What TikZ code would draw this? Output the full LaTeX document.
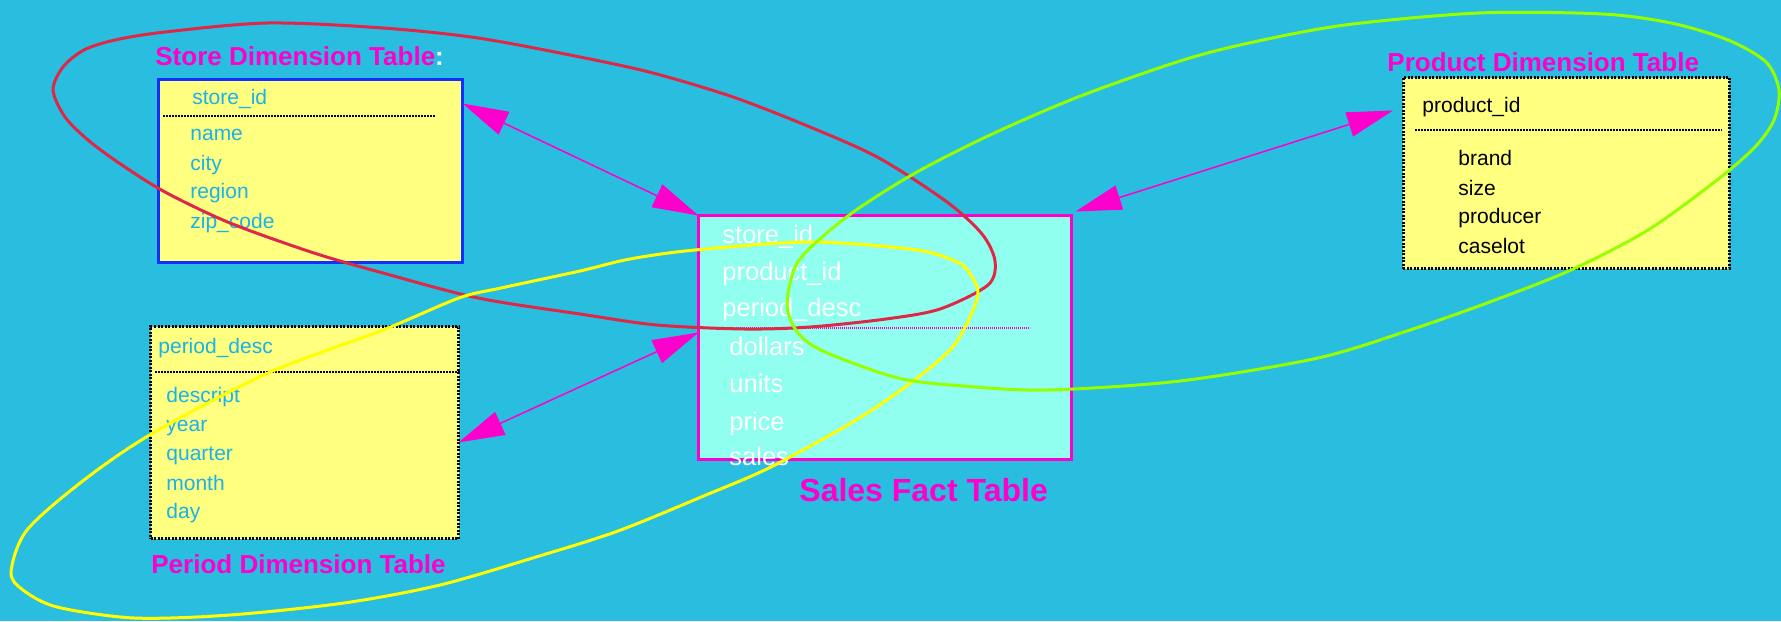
\documentclass[tikz,border=0pt]{standalone}
\usepackage{fontspec}
\setmainfont{Liberation Sans}
\usepackage{tikz}
\usetikzlibrary{arrows.meta}
\definecolor{SkyBack}{RGB}{41,189,224}
\definecolor{NoteYellow}{RGB}{255,255,128}
\definecolor{FactAqua}{RGB}{144,255,240}
\definecolor{StoreBlue}{RGB}{16,48,255}
\definecolor{LinkMagenta}{RGB}{255,0,204}
\definecolor{FieldBlue}{RGB}{24,178,236}
\definecolor{LassoRed}{RGB}{222,40,72}
\definecolor{LassoYellow}{RGB}{255,255,0}
\definecolor{LassoGreen}{RGB}{150,255,0}
\tikzset{
  tablebox/.style={rectangle, fill=NoteYellow, inner sep=0pt, outer sep=0pt, line width=1.5pt},
  dotframe/.style={draw=black, dash pattern=on 1pt off 0.75pt},
  factbox/.style={rectangle, fill=FactAqua, draw=LinkMagenta, inner sep=0pt, outer sep=0pt, line width=1.5pt},
  tabletitle/.style={anchor=base west, inner sep=0pt, text=LinkMagenta, font=\fontsize{13pt}{15pt}\selectfont\bfseries},
  facttitle/.style={anchor=base west, inner sep=0pt, text=LinkMagenta, font=\fontsize{16pt}{18pt}\selectfont\bfseries},
  field/.style={anchor=base west, inner sep=0pt, font=\fontsize{10.5pt}{12pt}\selectfont},
  factfield/.style={anchor=base west, inner sep=0pt, text=white, font=\fontsize{12.75pt}{14pt}\selectfont},
  keyline/.style={black, line width=1pt, dash pattern=on 1pt off 0.5pt},
  factline/.style={LinkMagenta, line width=0.6pt, dash pattern=on 0.6pt off 0.4pt},
  link/.style={LinkMagenta, line width=0.75pt, {Triangle[length=23pt,width=12.5pt]}-{Triangle[length=23pt,width=12.5pt]}},
  lasso/.style={line width=1.5pt, line join=round}
}

\begin{document}
\begin{tikzpicture}[x=0.5pt,y=-0.5pt]
  \useasboundingbox[fill=SkyBack] (0,0) rectangle (1781,621);

  % ----- TABLE BOXES -----
  \node[tablebox, draw=StoreBlue, minimum width=152pt, minimum height=91.5pt] (store) at (310.5,171) {};
  \node[tablebox, dotframe, minimum width=154pt, minimum height=106pt] (period) at (304.5,432.5) {};
  \node[tablebox, dotframe, minimum width=163pt, minimum height=95.5pt] (product) at (1566,173) {};
  \node[factbox, minimum width=186.5pt, minimum height=122pt] (fact) at (885,337.5) {};

  % titles
  \node[tabletitle] (storetitle) at (155,65) {Store Dimension Table\textcolor{white}{:}};
  \node[tabletitle] (periodtitle) at (151,573) {Period Dimension Table};
  \node[tabletitle] (producttitle) at (1387,71) {Product Dimension Table};
  \node[facttitle] (facttitle) at (799,501) {Sales Fact Table};

  % ----- STORE -----
  \node[field, text=FieldBlue] (storekey) at (192,104) {store\_id};
  \draw[keyline] (163,116) -- (435,116);
  \foreach \f/\y [count=\i] in {name/140,city/170,region/198,zip\_code/228}
    \node[field, text=FieldBlue] (store\i) at (190,\y) {\f};

  % ----- PERIOD -----
  \node[field, text=FieldBlue] (periodkey) at (158,353) {period\_desc};
  \draw[keyline] (155,372) -- (461,372);
  \foreach \f/\y [count=\i] in {descript/402,year/431,quarter/460,month/490,day/518}
    \node[field, text=FieldBlue] (period\i) at (166,\y) {\f};

  % ----- PRODUCT -----
  \node[field, text=black] (productkey) at (1422,112) {product\_id};
  \draw[keyline] (1415,130) -- (1722,130);
  \foreach \f/\y [count=\i] in {brand/165,size/195,producer/223,caselot/253}
    \node[field, text=black] (product\i) at (1458,\y) {\f};

  % ----- FACT -----
  \foreach \f/\y [count=\i] in {store\_id/243,product\_id/280,period\_desc/316}
    \node[factfield] (factkey\i) at (722,\y) {\f};
  \draw[factline] (722,328) -- (1030,328);
  \foreach \f/\y [count=\i] in {dollars/355,units/392,price/430,sales/465}
    \node[factfield] (fact\i) at (729,\y) {\f};

  % ----- LINKS -----
  \draw[link] ([yshift=-12pt]store.north east) -- (fact.north west);
  \draw[link] ([yshift=2.5pt]fact.west) -- ([yshift=-5pt]period.east);
  \draw[link] ([xshift=-5pt,yshift=-16.5pt]product.north west) -- ([shift={(2pt,2pt)}]fact.north east);

  % ----- LASSOS -----
  \draw[lasso, LassoRed] plot[smooth cycle, tension=0.5] coordinates {
    (53,90) (63,67) (84,50) (115,40) (165,32) (268,23) (383,28) (478,38)
    (580,57) (653,73) (733,97) (810,127) (879,158) (947,202) (982,234)
    (995,261) (988,285) (940,309) (886,319) (810,327) (745,329) (657,325)
    (580,314) (478,298) (383,273) (314,253) (230,223) (165,192) (119,163)
    (88,140) (65,117)};
  \draw[lasso, LassoYellow] plot[smooth cycle, tension=0.5] coordinates {
    (580,271) (630,259) (695,250) (810,242) (917,250) (959,263) (972,277)
    (978,293) (970,317) (951,349) (909,384) (856,420) (771,467) (706,495)
    (618,531) (536,557) (440,585) (344,603) (230,615) (134,618) (57,607)
    (23,590) (11,572) (27,530) (84,480) (153,433) (268,373) (383,330)
    (459,298) (501,288)};
  \draw[lasso, LassoGreen] plot[smooth cycle, tension=0.5] coordinates {
    (1180,61) (1078,97) (990,135) (917,172) (859,208) (821,238) (796,265)
    (787,305) (798,333) (825,352) (898,378) (963,386) (1047,390) (1180,381)
    (1318,358) (1410,330) (1487,303) (1571,270) (1648,230) (1717,180)
    (1755,147) (1774,120) (1779,90) (1766,62) (1728,40) (1671,23) (1602,14)
    (1479,13) (1345,25) (1249,43)};
\end{tikzpicture}
\end{document}
